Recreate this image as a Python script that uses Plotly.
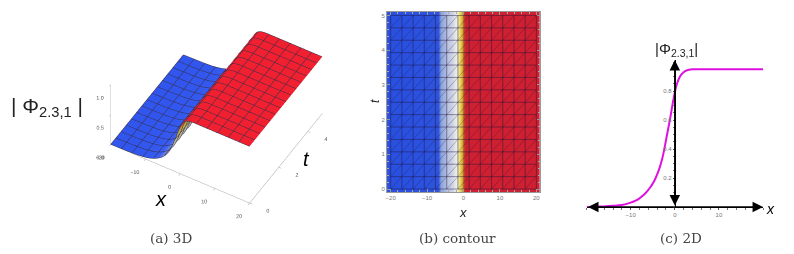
import numpy as np
import plotly.graph_objects as go

W, H = 794, 254
x_vals = [-20,-18,-16,-14,-12,-10,-9,-8,-7.5,-7,-6.5,-6,-5.5,-5,-4.5,-4,-3.5,-3,-2.5,-2,-1.5,-1,-0.5,0,0.5,1,1.5,2,2.5,3,3.5,4,5,6,8,10,12,14,16,18,20]
phi_vals = [0.0,0.002,0.004,0.008,0.014,0.03,0.042,0.06,0.072,0.085,0.1,0.118,0.138,0.162,0.19,0.225,0.265,0.315,0.38,0.46,0.54,0.62,0.71,0.79,0.85,0.89,0.915,0.93,0.94,0.945,0.948,0.95,0.95,0.95,0.95,0.95,0.95,0.95,0.95,0.95,0.95]
t_vals = [0, 1, 2, 3, 4, 5]
x_ticks = [-20, -10, 0, 10, 20]
t_ticks = [0, 1, 2, 3, 4, 5]
t_ticks3d = [0, 2, 4]
z_ticks3d = [0.0, 0.5, 1.0]
y_ticks2d = [0.2, 0.4, 0.6, 0.8]
x_ticks2d = [-10, 0, 10]
x_mesh = 13
t_mesh = 14
captions = ["(a) 3D", "(b) contour", "(c) 2D"]
phi_label = "Φ<sub>2.3,1</sub>"

Z = [phi_vals for _ in t_vals]
CS = [[0,"#2a50e0"],[0.09,"#2f55dc"],[0.11,"#8ea4dc"],[0.2,"#b9c3e2"],[0.35,"#d8dbe8"],[0.5,"#efefe8"],[0.62,"#ece070"],[0.72,"#d8b93a"],[0.8,"#bf8a25"],[0.87,"#c0352a"],[0.91,"#cc2230"],[1,"#ce2030"]]
CS3 = [[0,"#3156ee"],[0.1,"#3a5ef0"],[0.2,"#8f9fd8"],[0.4,"#c8c8c0"],[0.55,"#e8e08a"],[0.7,"#e0c040"],[0.82,"#d85a30"],[0.9,"#ec2530"],[1,"#f02030"]]

fx = lambda p: p / W
fy = lambda p: 1 - p / H

fig = go.Figure()
mesh_dx = 40 / x_mesh
mesh_dt = 5 / t_mesh
fig.add_trace(go.Surface(
    x=x_vals, y=t_vals, z=Z, cmin=0, cmax=0.95, colorscale=CS3, showscale=False, scene="scene",
    lighting=dict(ambient=0.85, diffuse=0.35, specular=0.05, roughness=0.9),
    contours=dict(
        x=dict(show=True, start=-20, end=20, size=mesh_dx, color="rgba(30,20,50,0.9)", width=2),
        y=dict(show=True, start=0, end=5, size=mesh_dt, color="rgba(30,20,50,0.9)", width=2),
    ),
))

fig.add_trace(go.Heatmap(x=x_vals, y=t_vals, z=Z, zmin=0, zmax=0.95, colorscale=CS, showscale=False,
                         zsmooth="best", xaxis="x", yaxis="y"))
lx, ly = [], []
xm = np.linspace(-20, 20, x_mesh + 1)
tm = np.linspace(0, 5, t_mesh + 1)
for a in xm:
    lx += [a, a, None]; ly += [0, 5, None]
for b in tm:
    lx += [-20, 20, None]; ly += [b, b, None]
fig.add_trace(go.Scatter(x=lx, y=ly, mode="lines", line=dict(color="rgba(30,20,60,0.45)", width=1), xaxis="x", yaxis="y", hoverinfo="skip"))
dx, dy = [], []
for i in range(x_mesh):
    for j in range(t_mesh):
        dx += [xm[i], xm[i + 1], None]; dy += [tm[j], tm[j + 1], None]
fig.add_trace(go.Scatter(x=dx, y=dy, mode="lines", line=dict(color="rgba(30,20,60,0.35)", width=0.8), xaxis="x", yaxis="y", hoverinfo="skip"))

fig.add_trace(go.Scatter(x=x_vals, y=phi_vals, mode="lines", line=dict(color="#e010e0", width=2, shape="spline"), xaxis="x2", yaxis="y2"))

tickf = dict(family="Liberation Sans", size=6, color="#777")
common2 = dict(showgrid=False, zeroline=False, linecolor="#999", mirror="allticks", ticks="inside", ticklen=3, tickcolor="#999", tickfont=tickf)
axis3 = dict(showbackground=False, showgrid=False, zeroline=False, showline=True, linecolor="#aaa", linewidth=1, tickangle=0,
             ticks="outside", ticklen=3, tickcolor="#aaa", tickfont=dict(family="Liberation Sans", size=8, color="#555"), title="", showspikes=False)

fig.update_layout(
    width=W, height=H, margin=dict(l=0, r=0, t=0, b=0), paper_bgcolor="white", plot_bgcolor="white", showlegend=False,
    scene=dict(
        domain=dict(x=[fx(60), fx(372)], y=[fy(230), 1]),
        xaxis=dict(axis3, range=[-20, 20], tickvals=x_ticks),
        yaxis=dict(axis3, range=[0, 5], tickvals=t_ticks3d),
        zaxis=dict(axis3, range=[0, 1], tickvals=z_ticks3d, tickformat=".1f", ticklen=8),
        aspectmode="manual", aspectratio=dict(x=1.4, y=1.25, z=0.75),
        camera=dict(eye=dict(x=0.6, y=-1.025, z=1.04), center=dict(x=0, y=0, z=-0.2), up=dict(x=0, y=0, z=1),
                    projection=dict(type="orthographic")),
    ),
    xaxis=dict(common2, domain=[fx(387), fx(540)], range=[-21, 20.9], tickvals=x_ticks, minor=dict(dtick=2, ticks="inside", ticklen=2, tickcolor="#aaa"), anchor="y"),
    yaxis=dict(common2, domain=[fy(192), fy(12)], range=[-0.086, 5.1], tickvals=t_ticks, minor=dict(dtick=0.2, ticks="inside", ticklen=2, tickcolor="#aaa"), anchor="x"),
    xaxis2=dict(domain=[fx(587), fx(764)], range=[-20, 20], tickvals=x_ticks2d, showgrid=False, zeroline=False, showline=True, linecolor="black",
                ticks="outside", ticklen=2, tickcolor="#555", tickfont=tickf, anchor="y2", minor=dict(dtick=2, ticks="outside", ticklen=1.5, tickcolor="#777")),
    yaxis2=dict(domain=[fy(207), fy(60)], range=[0, 1.014], tickvals=y_ticks2d, showgrid=False, zeroline=False, showline=True, linecolor="black",
                ticks="outside", ticklen=2, tickcolor="#555", tickfont=tickf, anchor="free", position=fx(675.6), tickformat=".1f", minor=dict(dtick=0.05, ticks="outside", ticklen=1.5, tickcolor="#777")),
)

def txt(px, py, s, size, family="Liberation Sans", color="#222", angle=0):
    fig.add_annotation(x=fx(px), y=fy(py), xref="paper", yref="paper", text=s, showarrow=False,
                       font=dict(family=family, size=size, color=color), textangle=angle, xanchor="center", yanchor="middle")

serif = "DejaVu Serif"
for cx, cap in zip([170, 458, 682], captions):
    txt(cx, 238, cap, 13.5, serif, "#444")
txt(46, 107, "| " + phi_label + " |", 21)
txt(160, 199, "<i>x</i>", 20, color="black")
txt(306, 159, "<i>t</i>", 20, color="black")
txt(463, 212, "<i>x</i>", 13)
txt(375, 101, "<i>t</i>", 12, angle=-90)
txt(677, 49, "|" + phi_label + "|", 15)
txt(771, 209, "<i>x</i>", 14, color="black")

fig.add_annotation(x=20, y=0, ax=-20, ay=0, xref="x2", yref="y2", axref="x2", ayref="y2", text="", showarrow=True,
                   arrowside="end+start", arrowhead=2, arrowsize=1.4, arrowwidth=1.5, arrowcolor="black")
fig.add_annotation(x=0, y=1.014, ax=0, ay=0, xref="x2", yref="y2", axref="x2", ayref="y2", text="", showarrow=True,
                   arrowside="end+start", arrowhead=2, arrowsize=1.4, arrowwidth=1.5, arrowcolor="black")

fig.write_html("out.html", config=dict(displayModeBar=False), post_script="document.body.style.margin='0';window.dispatchEvent(new Event('resize'));")
